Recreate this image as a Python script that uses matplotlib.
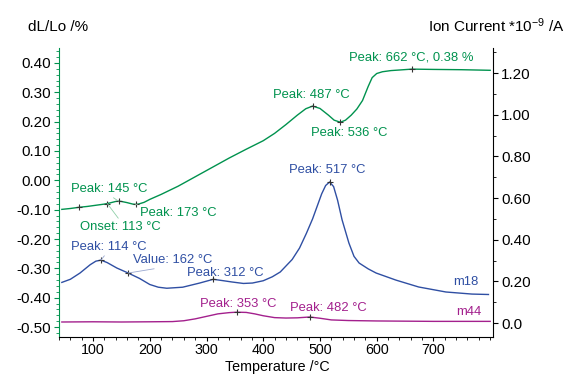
import matplotlib
matplotlib.use("Agg")
import matplotlib.pyplot as plt
from matplotlib.ticker import MultipleLocator, FixedLocator

plt.rcParams['font.family'] = ['Liberation Sans', 'DejaVu Sans']
plt.rcParams['mathtext.fontset'] = 'custom'
plt.rcParams['mathtext.rm'] = 'Liberation Sans'
plt.rcParams['mathtext.default'] = 'regular'

# ---- data ----
t_dl = [45, 60, 75, 90, 105, 120, 130, 140, 145, 150, 160, 170, 175, 180, 190, 200, 220, 250,
        280, 310, 340, 370, 400, 420, 440, 460, 475, 487, 500, 515, 525, 536, 545, 555, 565,
        575, 585, 592, 600, 610, 625, 640, 662, 700, 750, 800]
dl = [-0.099, -0.096, -0.092, -0.089, -0.085, -0.081, -0.077, -0.072, -0.071, -0.072, -0.076,
      -0.081, -0.082, -0.081, -0.075, -0.065, -0.048, -0.020, 0.012, 0.044, 0.076, 0.106, 0.135,
      0.160, 0.190, 0.222, 0.244, 0.253, 0.245, 0.222, 0.205, 0.198, 0.205, 0.222, 0.243, 0.272,
      0.320, 0.350, 0.364, 0.370, 0.374, 0.376, 0.379, 0.378, 0.377, 0.375]

t_m18 = [45, 60, 77, 95, 105, 114, 125, 142, 162, 182, 200, 215, 230, 258, 288, 312, 330, 345,
         365, 381, 400, 416, 430, 451, 464, 476, 487, 495, 503, 510, 517, 524, 531, 539, 551,
         560, 569, 585, 599, 634, 674, 722, 768, 797]
m18 = [0.195, 0.210, 0.240, 0.280, 0.297, 0.302, 0.290, 0.264, 0.240, 0.214, 0.185, 0.172,
       0.167, 0.172, 0.192, 0.210, 0.203, 0.197, 0.190, 0.192, 0.203, 0.222, 0.245, 0.305,
       0.360, 0.430, 0.500, 0.560, 0.620, 0.660, 0.677, 0.655, 0.590, 0.495, 0.384, 0.320,
       0.288, 0.260, 0.240, 0.206, 0.173, 0.149, 0.139, 0.137]

t_m44 = [45, 100, 150, 200, 240, 260, 280, 300, 320, 340, 353, 370, 385, 400, 420, 440, 460,
         482, 500, 520, 550, 600, 700, 800]
m44 = [0.005, 0.006, 0.005, 0.006, 0.007, 0.011, 0.020, 0.032, 0.044, 0.050, 0.052, 0.051,
       0.044, 0.035, 0.026, 0.024, 0.025, 0.029, 0.023, 0.015, 0.012, 0.010, 0.008, 0.008]

# marker points (temperature, value)
dl_mark_t = [75, 125, 145, 175, 487, 536, 662]
dl_mark_v = [-0.092, -0.079, -0.071, -0.082, 0.253, 0.198, 0.379]
m18_mark_t = [114, 162, 312, 517]
m18_mark_v = [0.302, 0.240, 0.210, 0.677]
m44_mark_t = [353, 482]
m44_mark_v = [0.052, 0.029]

x_label = "Temperature /°C"
left_label = "dL/Lo /%"
right_label = "Ion Current *10$^{-9}$ /A"
left_ticks = [-0.5, -0.4, -0.3, -0.2, -0.1, 0.0, 0.1, 0.2, 0.3, 0.4]
right_ticks = [0.0, 0.2, 0.4, 0.6, 0.8, 1.0, 1.2]
right_tick_labels = ['0.0', '0.20', '0.40', '0.60', '0.80', '1.00', '1.20']
x_ticks = [100, 200, 300, 400, 500, 600, 700]

GREEN = '#00924e'
GREEN_L = '#8fcfa8'
BLUE = '#2f4fa3'
BLUE_L = '#9aa8d0'
MAG = '#a3208d'
MARK = '#333333'

W, H = 570, 378
fig = plt.figure(figsize=(W / 100, H / 100), dpi=100)
L, R, B, T = 59, 493, 337, 48
ax = fig.add_axes([L / W, (H - B) / H, (R - L) / W, (B - T) / H])
ax2 = ax.twinx()

ax.set_xlim(40, 805)
ax.set_ylim(-0.534, 0.451)
ax2.set_ylim(-0.067, 1.32)

ax.plot(t_dl, dl, color=GREEN, lw=1.0)
ax.plot(dl_mark_t, dl_mark_v, ls='none', marker='+', ms=5, mew=0.8, color=MARK)
ax2.plot(t_m18, m18, color=BLUE, lw=1.0)
ax2.plot(m18_mark_t, m18_mark_v, ls='none', marker='+', ms=5, mew=0.8, color=MARK)
ax2.plot(t_m44, m44, color=MAG, lw=1.0)
ax2.plot(m44_mark_t, m44_mark_v, ls='none', marker='+', ms=5, mew=0.8, color=MARK)

# spines & ticks
for a in (ax, ax2):
    a.spines['top'].set_visible(False)
ax.spines['right'].set_visible(False)
ax2.spines['left'].set_visible(False)
ax.spines['left'].set_color(GREEN)
ax.spines['bottom'].set_color('black')
ax2.spines['right'].set_color('black')
ax2.spines['bottom'].set_visible(False)

TFS = 11
XFS = 10.3
ax.set_yticks(left_ticks)
ax.set_yticklabels([f"{v:.2f}" for v in left_ticks])
ax.yaxis.set_minor_locator(MultipleLocator(0.02))
ax.set_xticks(x_ticks)
ax.xaxis.set_minor_locator(MultipleLocator(20))
ax2.yaxis.set_major_locator(FixedLocator(right_ticks))
ax2.set_yticklabels(right_tick_labels)
ax2.yaxis.set_minor_locator(MultipleLocator(0.1))

ax.tick_params(axis='y', which='major', colors=GREEN, labelcolor='black', length=3.5, width=0.8, labelsize=TFS, pad=2.5)
ax.tick_params(axis='y', which='minor', colors=GREEN, length=2, width=0.6)
ax.tick_params(axis='x', which='major', length=3, width=0.8, labelsize=XFS, pad=1.5)
ax.tick_params(axis='x', which='minor', length=2, width=0.6)
ax2.tick_params(axis='y', which='major', length=3.5, width=0.8, labelsize=TFS, pad=2.5)
ax2.tick_params(axis='y', which='minor', length=2, width=0.6)

# axis titles
fig.text(28 / W, (H - 27) / H, left_label, fontsize=TFS, ha='left', va='center')
fig.text(565 / W, (H - 26) / H, right_label, fontsize=TFS, ha='right', va='center')
fig.text(277 / W, (H - 367) / H, x_label, fontsize=XFS, ha='center', va='center')

fs = 9.4

def label(a, text, xy, pos, color, ha='left', leader=None, relpos=(0.5, 0.5)):
    kw = {}
    if leader:
        kw['arrowprops'] = dict(arrowstyle='-', color=leader, lw=0.6, relpos=relpos,
                                shrinkA=0, shrinkB=0)
    a.annotate(text, xy=xy, xycoords='data', xytext=(pos[0], H - pos[1]),
               textcoords='figure pixels', ha=ha, va='center', fontsize=fs, color=color, **kw)

# green labels
label(ax, "Peak: 145 °C", (145, -0.071), (71, 189), GREEN, leader=GREEN_L, relpos=(0.5, 0))
label(ax, "Peak: 173 °C", (175, -0.082), (140, 213), GREEN, leader=GREEN_L, relpos=(0.5, 1))
label(ax, "Onset: 113 °C", (125, -0.079), (80, 227), GREEN, leader=GREEN_L, relpos=(0.5, 1))
label(ax, "Peak: 487 °C", (487, 0.253), (273, 95), GREEN)
label(ax, "Peak: 536 °C", (536, 0.198), (311, 133), GREEN)
label(ax, "Peak: 662 °C, 0.38 %", (662, 0.379), (349, 58), GREEN)

# blue labels
label(ax2, "Peak: 114 °C", (114, 0.302), (71, 247), BLUE, leader=BLUE_L, relpos=(0.47, 0))
label(ax2, "Value: 162 °C", (162, 0.240), (133, 260), BLUE, leader=BLUE_L, relpos=(0.48, 0))
label(ax2, "Peak: 312 °C", (312, 0.210), (187, 273), BLUE)
label(ax2, "Peak: 517 °C", (517, 0.677), (289, 170), BLUE)
label(ax2, "m18", (797, 0.137), (479, 282), BLUE, ha='right')

# magenta labels
label(ax2, "Peak: 353 °C", (353, 0.052), (200, 304), MAG)
label(ax2, "Peak: 482 °C", (482, 0.029), (290, 308), MAG)
label(ax2, "m44", (797, 0.008), (481, 312), MAG, ha='right')

fig.savefig("out.png", dpi=100)
